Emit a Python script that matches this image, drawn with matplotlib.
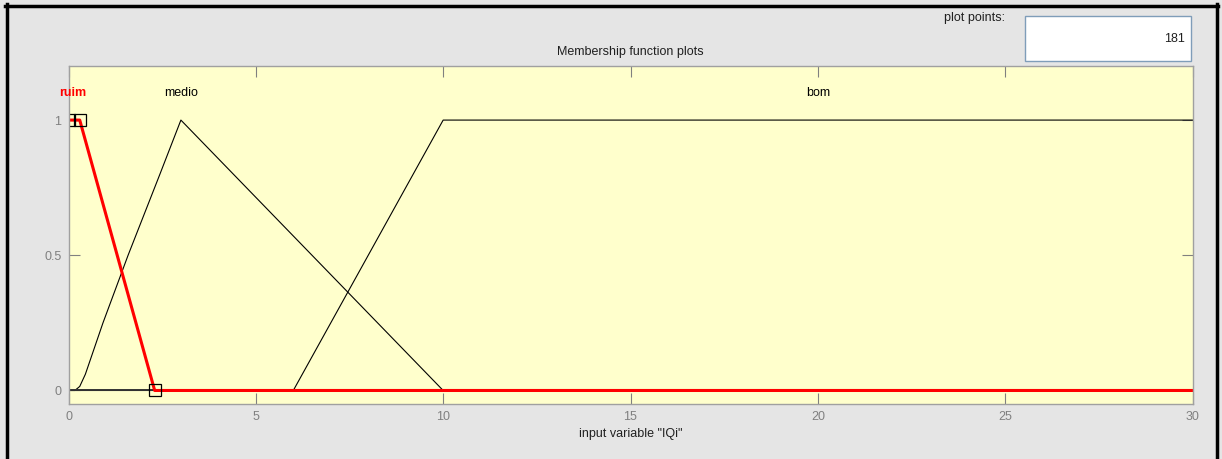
import matplotlib
matplotlib.use("Agg")
import matplotlib.pyplot as plt
from matplotlib.lines import Line2D
from matplotlib.patches import Rectangle

plt.rcParams['font.family'] = ['Liberation Sans', 'DejaVu Sans']

# membership functions of input "IQi"
ruim_x = [0, 0.3, 2.3, 30]
ruim_y = [1, 1, 0, 0]

medio_x = [0, 0.17, 0.3, 0.45, 0.92, 1.59, 2.44, 3.0, 10, 30]
medio_y = [0, 0, 0.015, 0.06, 0.25, 0.5, 0.8, 1.0, 0, 0]

bom_x = [0, 6, 10, 30]
bom_y = [0, 0, 1, 1]

# parameter markers of the selected MF
sel_x = [0, 0.3, 2.3]
sel_y = [1, 1, 0]

labels = ["ruim", "medio", "bom"]
label_x = [0.12, 3.0, 20.0]

xticks = [0, 5, 10, 15, 20, 25, 30]
yticks = [0, 0.5, 1]
plot_points = 181

W, H = 1222, 459
fs = 9
fig = plt.figure(figsize=(W / 100, H / 100), dpi=100)
fig.patch.set_facecolor('#e5e5e5')

ax = fig.add_axes([68.5 / W, 1 - 404 / H, (1192.5 - 68.5) / W, (404 - 66) / H])
ax.set_facecolor('#ffffcc')

ax.plot(bom_x, bom_y, color='black', lw=0.8)
ax.plot(medio_x, medio_y, color='black', lw=0.8)
ax.plot([0, 30], [0, 0], color='#333333', lw=1.4)
ax.plot(ruim_x, ruim_y, color='red', lw=2.2)
ax.plot(sel_x, sel_y, ls='none', marker='s', ms=8.5, mfc='none', mec='black', mew=0.9)

for name, lx in zip(labels, label_x):
    if name == "ruim":
        ax.text(lx, 1.1, name, color='red', fontweight='bold', ha='center', va='center', fontsize=fs)
    else:
        ax.text(lx, 1.1, name, color='black', ha='center', va='center', fontsize=fs)

ax.set_xlim(0, 30)
ax.set_ylim(-0.05, 1.2)
ax.set_xticks(xticks)
ax.set_yticks(yticks)
ax.set_yticklabels(['0', '0.5', '1'])
ax.tick_params(direction='in', length=8, width=0.8, color='#808080', labelcolor='#808080',
               labelsize=fs, top=True, right=True, pad=5)
for s in ax.spines.values():
    s.set_color('#a0a0a0')
    s.set_linewidth(1.0)

ax.set_title("Membership function plots", fontsize=fs, color='#202020', pad=8)
ax.set_xlabel('input variable "IQi"', fontsize=fs, color='#202020', labelpad=4)

# plot points box
fig.text(1005 / W, 1 - 18 / H, "plot points:", ha='right', va='center', fontsize=fs, color='#202020')
fig.add_artist(Rectangle((1025 / W, 1 - 61 / H), (1191 - 1025) / W, 45 / H,
                         transform=fig.transFigure, facecolor='white', edgecolor='#7f9db9', lw=1.0))
fig.text(1185 / W, 1 - 39 / H, str(plot_points), ha='right', va='center', fontsize=fs, color='#202020')

# black window frame
fig.add_artist(Line2D([6.5 / W, 6.5 / W], [0, 1 - 4 / H], transform=fig.transFigure, color='black', lw=2.5))
fig.add_artist(Line2D([5 / W, 1218 / W], [1 - 5.5 / H, 1 - 5.5 / H], transform=fig.transFigure, color='black', lw=2.5))
fig.add_artist(Line2D([1216.5 / W, 1216.5 / W], [0, 1 - 4 / H], transform=fig.transFigure, color='black', lw=2.5))

fig.savefig("out.png", dpi=100, facecolor=fig.get_facecolor())
